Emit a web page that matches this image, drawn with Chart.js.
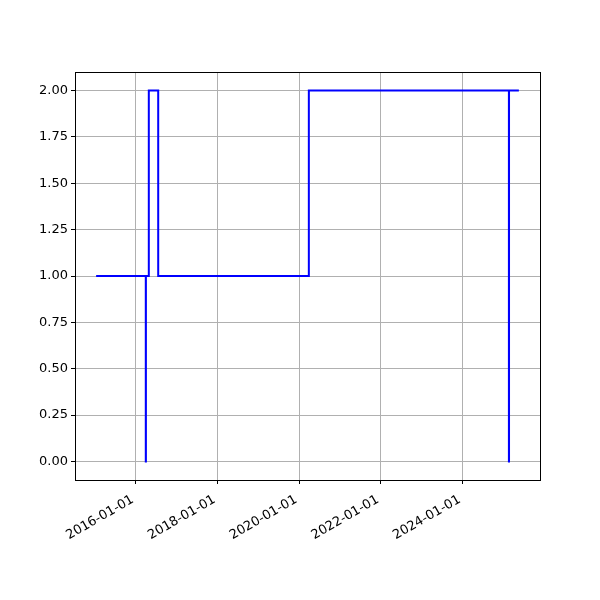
<!DOCTYPE html>
<html>
<head>
<meta charset="utf-8">
<script src="https://cdn.jsdelivr.net/npm/chart.js@4"></script>
<style>
  body { margin: 0; background: #fff; }
</style>
</head>
<body>
<canvas id="chart-step" width="600" height="600"></canvas>
<script>
// step series
const dates = ['2015-01-11', '2016-03-30', '2016-03-31', '2016-04-26', '2016-07-19',
               '2020-03-27', '2025-02-18', '2025-02-19', '2025-05-18'];
const values = [1, 0, 1, 2, 1, 2, 0, 2, 2];

const xTickDates = ['2016-01-01', '2018-01-01', '2020-01-01', '2022-01-01', '2024-01-01'];
const yTicks = [0, 0.25, 0.5, 0.75, 1, 1.25, 1.5, 1.75, 2];

const times = dates.map(d => Date.parse(d));
const span = times[times.length - 1] - times[0];
const xMin = times[0] - 0.05 * span;
const xMax = times[times.length - 1] + 0.05 * span;

function fmtDate(ms) {
    const d = new Date(ms);
    const mm = String(d.getUTCMonth() + 1).padStart(2, '0');
    const dd = String(d.getUTCDate()).padStart(2, '0');
    return d.getUTCFullYear() + '-' + mm + '-' + dd;
}

const frame = {
    id: 'frame',
    afterDatasetsDraw(chart) {
        const a = chart.chartArea;
        const ctx = chart.ctx;
        ctx.save();
        ctx.strokeStyle = '#000';
        ctx.lineWidth = 1;
        ctx.strokeRect(Math.round(a.left) + 0.5, Math.round(a.top) + 0.5,
                       Math.round(a.right - a.left), Math.round(a.bottom - a.top));
        ctx.restore();
    }
};

window.onload = function () {
    new Chart(document.getElementById('chart-step'), {
        type: 'line',
        data: {
            datasets: [{
                data: times.map((t, i) => ({ x: t, y: values[i] })),
                stepped: 'before',
                borderColor: '#0000ff',
                borderWidth: 2,
                borderJoinStyle: 'miter',
                pointRadius: 0,
                fill: false
            }]
        },
        options: {
            responsive: false,
            animation: false,
            layout: { padding: { top: 72, right: 60, left: 0, bottom: 0 } },
            plugins: { legend: { display: false }, tooltip: { enabled: false } },
            scales: {
                x: {
                    type: 'linear',
                    min: xMin,
                    max: xMax,
                    afterBuildTicks: s => { s.ticks = xTickDates.map(d => ({ value: Date.parse(d) })); },
                    afterFit: s => { s.height = 120; },
                    border: { display: false },
                    grid: { color: '#b0b0b0', lineWidth: 1, tickColor: '#000', tickLength: 4 },
                    ticks: {
                        autoSkip: false,
                        minRotation: 30,
                        maxRotation: 30,
                        padding: 8,
                        labelOffset: -3,
                        color: '#000',
                        font: { family: 'DejaVu Sans', size: 13 },
                        callback: v => fmtDate(v)
                    }
                },
                y: {
                    min: -0.1,
                    max: 2.1,
                    afterBuildTicks: s => { s.ticks = yTicks.map(v => ({ value: v })); },
                    afterFit: s => { s.width = 75; },
                    border: { display: false },
                    grid: { color: '#b0b0b0', lineWidth: 1, tickColor: '#000', tickLength: 4 },
                    ticks: {
                        padding: 3,
                        color: '#000',
                        font: { family: 'DejaVu Sans', size: 13 },
                        callback: v => v.toFixed(2)
                    }
                }
            }
        },
        plugins: [frame]
    });
};
</script>
</body>
</html>
